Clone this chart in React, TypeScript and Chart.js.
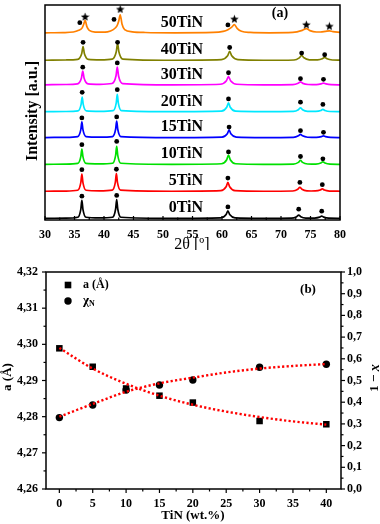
import React, { useEffect, useRef } from 'react';
import { Chart, registerables } from 'chart.js';
Chart.register(...registerables);

const SERIF = '"Liberation Serif", "Times New Roman", serif';

// ---------------- Panel (a): XRD patterns ----------------
const sampleNames = ['0TiN', '5TiN', '10TiN', '15TiN', '20TiN', '30TiN', '40TiN', '50TiN'];
const sampleColors = ['#000000', '#ff0000', '#00e000', '#0000ff', '#00e8ff', '#ff00ff', '#808000', '#ff8000'];
const sampleOffsets = [1.7, 29.3, 56.7, 84, 110.3, 137.7, 162.7, 190.7];
const twoThetaTicks = [30, 35, 40, 45, 50, 55, 60, 65, 70, 75, 80];

const pattern0TiN = [
  [30, 0], [33.5, 0.2], [35.55, 1.1], [36.07, 9.2], [36.25, 18.3], [36.43, 9.2], [36.95, 1.1], [39.2, 0.4],
  [41.45, 1.1], [41.97, 9.5], [42.15, 19], [42.33, 9.5], [42.85, 1.1], [51.5, 0],
  [59.8, 0.5], [60.7, 3.8], [61.0, 7.6], [61.3, 3.8], [62.2, 0.5], [67, 0],
  [71.8, 0.2], [72.65, 1.7], [73.0, 3.3], [73.35, 1.7], [74.2, 0.3], [75.0, 0.2],
  [75.7, 0.25], [76.55, 1.2], [76.9, 2.3], [77.25, 1.2], [78.1, 0.2], [80, 0],
];
const pattern5TiN = [
  [30, 0], [33.5, 0.2], [35.55, 1], [36.07, 8.7], [36.25, 17.4], [36.43, 8.7], [36.95, 1], [39.2, 0.4],
  [41.4, 1.1], [41.92, 9], [42.1, 18], [42.28, 9], [42.8, 1.1], [51.5, 0],
  [59.8, 0.6], [60.7, 4.5], [61.0, 9], [61.3, 4.5], [62.2, 0.6], [67, 0],
  [72.0, 0.25], [72.85, 2], [73.2, 4], [73.55, 2], [74.4, 0.35], [75.1, 0.25],
  [75.8, 0.3], [76.65, 1.2], [77.0, 2.4], [77.35, 1.2], [78.2, 0.2], [80, 0],
];
const pattern10TiN = [
  [30, 0], [33.5, 0.2], [35.55, 0.9], [36.07, 7.8], [36.25, 15.6], [36.43, 7.8], [36.95, 0.9], [39.2, 0.4],
  [41.45, 1.1], [41.97, 9.2], [42.15, 18.3], [42.33, 9.2], [42.85, 1.1], [51.5, 0],
  [59.9, 0.6], [60.8, 4.7], [61.1, 9.3], [61.4, 4.7], [62.3, 0.6], [67, 0],
  [72.1, 0.25], [72.95, 2], [73.3, 4], [73.65, 2], [74.5, 0.35], [75.2, 0.25],
  [75.9, 0.3], [76.75, 1.3], [77.1, 2.6], [77.45, 1.3], [78.3, 0.2], [80, 0],
];
const pattern15TiN = [
  [30, 0], [33.5, 0.2], [35.55, 1], [36.07, 8], [36.25, 16], [36.43, 8], [36.95, 1], [39.2, 0.4],
  [41.45, 1], [41.97, 8.4], [42.15, 16.7], [42.33, 8.4], [42.85, 1], [51.5, 0],
  [60.0, 0.5], [60.9, 3.9], [61.2, 7.7], [61.5, 3.9], [62.4, 0.5], [67, 0],
  [72.1, 0.2], [72.95, 1.7], [73.3, 3.3], [73.65, 1.7], [74.5, 0.3], [75.2, 0.2],
  [76.0, 0.2], [76.85, 0.9], [77.2, 1.7], [77.55, 0.9], [78.4, 0.1], [80, 0],
];
const pattern20TiN = [
  [30, 0], [33.5, 0.2], [35.6, 0.9], [36.12, 7.5], [36.3, 15], [36.48, 7.5], [37.0, 0.9], [39.3, 0.4],
  [41.55, 1.1], [42.07, 8.8], [42.25, 17.6], [42.43, 8.8], [42.95, 1.1], [51.5, 0],
  [59.9, 0.5], [60.8, 4.5], [61.1, 9], [61.4, 4.5], [62.3, 0.5], [67, 0],
  [72.1, 0.25], [72.95, 2], [73.3, 4], [73.65, 2], [74.5, 0.35], [75.2, 0.25],
  [75.9, 0.3], [76.75, 1.2], [77.1, 2.3], [77.45, 1.2], [78.3, 0.2], [80, 0],
];
const pattern30TiN = [
  [30, 0], [33.5, 0.3], [35.5, 1], [36.18, 7], [36.4, 14], [36.62, 7], [37.3, 1], [39.3, 0.5],
  [41.35, 1.3], [42.03, 9], [42.25, 18], [42.47, 9], [43.15, 1.3], [51.5, 0],
  [59.7, 0.6], [60.75, 4.2], [61.1, 8.3], [61.45, 4.2], [62.5, 0.6], [67, 0],
  [72.0, 0.2], [72.9, 1.5], [73.3, 3], [73.7, 1.5], [74.6, 0.3], [75.3, 0.2],
  [76.0, 0.2], [76.8, 0.9], [77.2, 1.7], [77.6, 0.9], [78.5, 0.1], [80, 0],
];
const pattern40TiN = [
  [30, 0], [33.5, 0.3], [35.55, 1], [36.23, 7], [36.45, 14], [36.67, 7], [37.35, 1], [39.4, 0.5],
  [41.4, 1.2], [42.08, 8.7], [42.3, 17.3], [42.52, 8.7], [43.2, 1.2], [51.5, 0],
  [59.9, 0.6], [60.95, 4.5], [61.3, 9], [61.65, 4.5], [62.7, 0.6], [67, 0],
  [72.2, 0.3], [73.1, 2.5], [73.5, 5], [73.9, 2.5], [74.8, 0.5], [75.5, 0.35],
  [76.2, 0.4], [77.0, 1.5], [77.4, 3], [77.8, 1.5], [78.7, 0.3], [80, 0.1],
];
const pattern50TiN = [
  [30, 0], [33, 0.2], [34.8, 0.8], [35.7, 2.5], [36.3, 5], [36.55, 8.5], [36.8, 12.6], [37.1, 6.3], [37.5, 2.5], [38.6, 0.7], [39.6, 0.6],
  [40.6, 1], [41.5, 3], [42.2, 7], [42.5, 12], [42.75, 18.3], [43.05, 9], [43.5, 3.2], [44.8, 1], [47, 0.3], [52, 0],
  [58.5, 0.4], [60.2, 1.5], [61.0, 3.2], [61.6, 5.5], [62.1, 8.3], [62.6, 4.2], [63.3, 1.5], [64.8, 0.4], [68, 0],
  [72.0, 0.4], [73.6, 2.5], [74.3, 4.3], [74.9, 2.2], [76.0, 0.8], [76.7, 0.8],
  [77.5, 1.4], [78.2, 2], [78.8, 1.2], [80, 0.5],
];
const patterns = [pattern0TiN, pattern5TiN, pattern10TiN, pattern15TiN, pattern20TiN, pattern30TiN, pattern40TiN, pattern50TiN];

// phase markers (2θ, height above each pattern's baseline)
const dots0TiN = [[36.25, 22.6], [42.15, 23.3], [61.0, 11.6], [73.0, 9.3], [76.9, 7.3]];
const dots5TiN = [[36.25, 22], [42.1, 22.4], [61.0, 13.4], [73.2, 9], [77.0, 6.7]];
const dots10TiN = [[36.25, 20], [42.15, 23.3], [61.1, 12.6], [73.3, 8], [77.1, 5.6]];
const dots15TiN = [[36.25, 20], [42.15, 21], [61.2, 10.7], [73.3, 7], [77.2, 5.3]];
const dots20TiN = [[36.3, 19.7], [42.25, 22.4], [61.1, 13], [73.3, 9.7], [77.1, 7.4]];
const dots30TiN = [[36.4, 18], [42.25, 22.3], [61.1, 12.3], [73.3, 6.3], [77.2, 5.6]];
const dots40TiN = [[36.45, 18.3], [42.3, 18.3], [61.3, 13], [73.5, 7.3], [77.4, 5.6]];
const dots50TiN = [[35.9, 10.3], [41.7, 13.6], [61.0, 8]];
const dotMarks = [dots0TiN, dots5TiN, dots10TiN, dots15TiN, dots20TiN, dots30TiN, dots40TiN, dots50TiN];
const stars50TiN = [[36.8, 16.6], [42.75, 24.3], [62.1, 14.3], [74.3, 8.6], [78.2, 7]];

// ---------------- Panel (b): lattice parameter & χN ----------------
const tinContent = [0, 5, 10, 15, 20, 30, 40];
const latticeA = [4.2989, 4.2938, 4.2878, 4.2858, 4.2839, 4.2788, 4.2779];
const chiN = [0.329, 0.387, 0.456, 0.479, 0.502, 0.561, 0.575];
const fitX = [0, 5, 10, 15, 20, 25, 30, 35, 40];
const fitA = [4.299, 4.2933, 4.2891, 4.2858, 4.2833, 4.2814, 4.2799, 4.2787, 4.2778];
const fitChi = [0.333, 0.392, 0.448, 0.487, 0.513, 0.537, 0.555, 0.567, 0.576];
const tinTicks = [0, 5, 10, 15, 20, 25, 30, 35, 40];
const aTicks = [4.26, 4.27, 4.28, 4.29, 4.3, 4.31, 4.32];
const chiTicks = [0, 0.1, 0.2, 0.3, 0.4, 0.5, 0.6, 0.7, 0.8, 0.9, 1.0];

function makeStar(size: number) {
  const c = document.createElement('canvas');
  c.width = size;
  c.height = size;
  const g = c.getContext('2d')!;
  g.beginPath();
  for (let i = 0; i < 10; i++) {
    const r = i % 2 === 0 ? size / 2 : (size / 2) * 0.42;
    const a = -Math.PI / 2 + (i * Math.PI) / 5;
    g.lineTo(size / 2 + r * Math.cos(a), size / 2 + 0.6 + r * Math.sin(a));
  }
  g.closePath();
  g.fillStyle = '#000';
  g.fill();
  return c;
}

function drawAxisTicks(chart: any, scaleId: string, side: string, outward: boolean) {
  const sc = chart.scales[scaleId];
  const ca = chart.chartArea;
  const ctx = chart.ctx;
  const vals: number[] = sc.ticks.map((t: any) => t.value);
  const minors: number[] = [];
  for (let i = 0; i < vals.length - 1; i++) minors.push((vals[i] + vals[i + 1]) / 2);
  ctx.save();
  ctx.strokeStyle = '#000';
  ctx.lineWidth = 1.2;
  const draw = (v: number, len: number) => {
    const p = sc.getPixelForValue(v);
    ctx.beginPath();
    if (side === 'bottom') {
      const y0 = ca.bottom;
      ctx.moveTo(p, y0);
      ctx.lineTo(p, outward ? y0 + len : y0 - len);
    } else if (side === 'left') {
      const x0 = ca.left;
      ctx.moveTo(x0, p);
      ctx.lineTo(outward ? x0 - len : x0 + len, p);
    } else {
      const x0 = ca.right;
      ctx.moveTo(x0, p);
      ctx.lineTo(outward ? x0 + len : x0 - len, p);
    }
    ctx.stroke();
  };
  vals.forEach((v) => draw(v, 4));
  minors.forEach((v) => draw(v, 2.5));
  ctx.restore();
}

function drawFrame(chart: any) {
  const ca = chart.chartArea;
  const ctx = chart.ctx;
  ctx.save();
  ctx.strokeStyle = '#000';
  ctx.lineWidth = 1.5;
  ctx.strokeRect(ca.left, ca.top, ca.right - ca.left, ca.bottom - ca.top);
  ctx.restore();
}

function fixedTicks(values: number[]) {
  return (scale: any) => {
    scale.ticks = values.map((v) => ({ value: v }));
  };
}

function TopChart() {
  const ref = useRef<HTMLCanvasElement>(null);
  useEffect(() => {
    const star = makeStar(9);
    const datasets: any[] = patterns.map((p, i) => ({
      type: 'line',
      label: sampleNames[i],
      data: p.map(([x, y]) => ({ x, y: y + sampleOffsets[i] })),
      borderColor: sampleColors[i],
      borderWidth: 1.7,
      pointRadius: 0,
      fill: false,
      cubicInterpolationMode: 'monotone',
      order: 2,
    }));
    const dotData: any[] = [];
    dotMarks.forEach((m, i) => m.forEach(([x, y]) => dotData.push({ x, y: y + sampleOffsets[i] })));
    datasets.push({
      type: 'scatter',
      data: dotData,
      pointStyle: 'circle',
      pointRadius: 2.4,
      backgroundColor: '#000',
      borderColor: '#000',
      borderWidth: 0,
      order: 1,
    });
    datasets.push({
      type: 'scatter',
      data: stars50TiN.map(([x, y]) => ({ x, y: y + sampleOffsets[7] })),
      pointStyle: star,
      pointRadius: 4,
      order: 1,
    });
    const deco = {
      id: 'decoA',
      afterDraw(chart: any) {
        const ctx = chart.ctx;
        const xs = chart.scales.x;
        const ys = chart.scales.y;
        drawFrame(chart);
        drawAxisTicks(chart, 'x', 'bottom', false);
        ctx.save();
        ctx.fillStyle = '#000';
        ctx.font = `bold 16px ${SERIF}`;
        ctx.textAlign = 'right';
        ctx.textBaseline = 'middle';
        sampleNames.forEach((n, i) => {
          ctx.fillText(n, xs.getPixelForValue(56.8), ys.getPixelForValue(sampleOffsets[i] + 10.5));
        });
        ctx.textAlign = 'center';
        ctx.font = `bold 14px ${SERIF}`;
        ctx.fillText('(a)', 280, 13);
        ctx.font = `16px ${SERIF}`;
        ctx.fillText('2θ [º]', 192, 245);
        ctx.translate(33, 111);
        ctx.rotate(-Math.PI / 2);
        ctx.font = `bold 16px ${SERIF}`;
        ctx.fillText('Intensity [a.u.]', 0, 0);
        ctx.restore();
      },
    };
    const chart = new Chart(ref.current!, {
      type: 'line',
      data: { datasets },
      plugins: [deco],
      options: {
        animation: false,
        responsive: false,
        devicePixelRatio: 1,
        layout: { padding: { left: 45, right: 40, top: 1, bottom: 0 } },
        plugins: { legend: { display: false }, tooltip: { enabled: false } },
        scales: {
          x: {
            type: 'linear',
            min: 30,
            max: 80,
            afterBuildTicks: fixedTicks(twoThetaTicks),
            afterFit: (s: any) => { s.height = 30; },
            grid: { display: false, drawTicks: false },
            border: { display: false },
            ticks: { color: '#000', font: { family: SERIF, size: 12, weight: 'bold' }, padding: 8, maxRotation: 0 },
          },
          y: { type: 'linear', min: 0, max: 219, display: false },
        },
      } as any,
    });
    return () => chart.destroy();
  }, []);
  return <canvas ref={ref} width={380} height={250} style={{ display: 'block', width: 380, height: 250 }} />;
}

function BottomChart() {
  const ref = useRef<HTMLCanvasElement>(null);
  useEffect(() => {
    const deco = {
      id: 'decoB',
      afterDraw(chart: any) {
        const ctx = chart.ctx;
        drawFrame(chart);
        drawAxisTicks(chart, 'x', 'bottom', true);
        drawAxisTicks(chart, 'y', 'left', true);
        drawAxisTicks(chart, 'y1', 'right', true);
        ctx.save();
        ctx.fillStyle = '#000';
        ctx.textBaseline = 'middle';
        // legend
        ctx.fillRect(68 - 3.3, 35 - 3.3, 6.6, 6.6);
        ctx.beginPath();
        ctx.arc(68, 51, 3.7, 0, Math.PI * 2);
        ctx.fill();
        ctx.textAlign = 'left';
        ctx.font = `bold 12px ${SERIF}`;
        ctx.fillText('a (Å)', 83, 35);
        ctx.font = `bold 13px ${SERIF}`;
        ctx.fillText('χ', 83, 51);
        const wChi = ctx.measureText('χ').width;
        ctx.font = `bold 8px ${SERIF}`;
        ctx.fillText('N', 83 + wChi, 54);
        ctx.textAlign = 'center';
        ctx.font = `bold 13px ${SERIF}`;
        ctx.fillText('(b)', 308, 40);
        ctx.fillText('TiN (wt.%)', 193, 266);
        // left title
        ctx.save();
        ctx.translate(8, 127);
        ctx.rotate(-Math.PI / 2);
        ctx.font = `bold 13px ${SERIF}`;
        ctx.fillText('a (Å)', 0, 0);
        ctx.restore();
        // right title
        ctx.save();
        ctx.translate(375, 128);
        ctx.rotate(-Math.PI / 2);
        ctx.font = `bold 13px ${SERIF}`;
        const p1 = '1 − ';
        const w1 = ctx.measureText(p1).width;
        ctx.font = `italic bold 14px ${SERIF}`;
        const w2 = ctx.measureText('x').width;
        const start = -(w1 + w2) / 2;
        ctx.textAlign = 'left';
        ctx.font = `bold 13px ${SERIF}`;
        ctx.fillText(p1, start, 0);
        ctx.font = `italic bold 14px ${SERIF}`;
        ctx.fillText('x', start + w1, 0);
        ctx.restore();
        ctx.restore();
      },
    };
    const chart = new Chart(ref.current!, {
      type: 'scatter',
      data: {
        datasets: [
          {
            type: 'line',
            data: fitX.map((x, i) => ({ x, y: fitA[i] })),
            yAxisID: 'y',
            borderColor: '#ff0000',
            borderWidth: 2.4,
            borderDash: [2.2, 2.3],
            pointRadius: 0,
            fill: false,
            cubicInterpolationMode: 'monotone',
            order: 0,
          },
          {
            type: 'line',
            data: fitX.map((x, i) => ({ x, y: fitChi[i] })),
            yAxisID: 'y1',
            borderColor: '#ff0000',
            borderWidth: 2.4,
            borderDash: [2.2, 2.3],
            pointRadius: 0,
            fill: false,
            cubicInterpolationMode: 'monotone',
            order: 0,
          },
          {
            label: 'a (Å)',
            data: tinContent.map((x, i) => ({ x, y: latticeA[i] })),
            yAxisID: 'y',
            pointStyle: 'rect',
            pointRadius: 4.6,
            backgroundColor: '#000',
            borderColor: '#000',
            borderWidth: 0,
            order: 1,
          },
          {
            label: 'χN',
            data: tinContent.map((x, i) => ({ x, y: chiN[i] })),
            yAxisID: 'y1',
            pointStyle: 'circle',
            pointRadius: 3.7,
            backgroundColor: '#000',
            borderColor: '#000',
            borderWidth: 0,
            order: 1,
          },
        ] as any,
      },
      plugins: [deco],
      options: {
        animation: false,
        responsive: false,
        devicePixelRatio: 1,
        layout: { padding: { left: 0, right: 0, top: 22, bottom: 0 } },
        plugins: { legend: { display: false }, tooltip: { enabled: false } },
        scales: {
          x: {
            type: 'linear',
            min: -2,
            max: 42.2,
            afterBuildTicks: fixedTicks(tinTicks),
            afterFit: (s: any) => { s.height = 35; },
            grid: { display: false, drawTicks: false },
            border: { display: false },
            ticks: { color: '#000', font: { family: SERIF, size: 12, weight: 'bold' }, padding: 8, maxRotation: 0 },
          },
          y: {
            type: 'linear',
            position: 'left',
            min: 4.26,
            max: 4.32,
            afterBuildTicks: fixedTicks(aTicks),
            afterFit: (s: any) => { s.width = 46; },
            grid: { display: false, drawTicks: false },
            border: { display: false },
            ticks: {
              color: '#000',
              font: { family: SERIF, size: 12, weight: 'bold' },
              padding: 8,
              callback: (v: any) => Number(v).toFixed(2).replace('.', ','),
            },
          },
          y1: {
            type: 'linear',
            position: 'right',
            min: 0,
            max: 1,
            afterBuildTicks: fixedTicks(chiTicks),
            afterFit: (s: any) => { s.width = 39; },
            grid: { display: false, drawTicks: false },
            border: { display: false },
            ticks: {
              color: '#000',
              font: { family: SERIF, size: 12, weight: 'bold' },
              padding: 6,
              callback: (v: any) => Number(v).toFixed(1).replace('.', ','),
            },
          },
        },
      } as any,
    });
    return () => chart.destroy();
  }, []);
  return <canvas ref={ref} width={380} height={274} style={{ display: 'block', width: 380, height: 274 }} />;
}

export default function App() {
  return (
    <div style={{ position: 'absolute', left: 0, top: 0, width: 380, height: 524, background: '#fff' }}>
      <TopChart />
      <BottomChart />
    </div>
  );
}
